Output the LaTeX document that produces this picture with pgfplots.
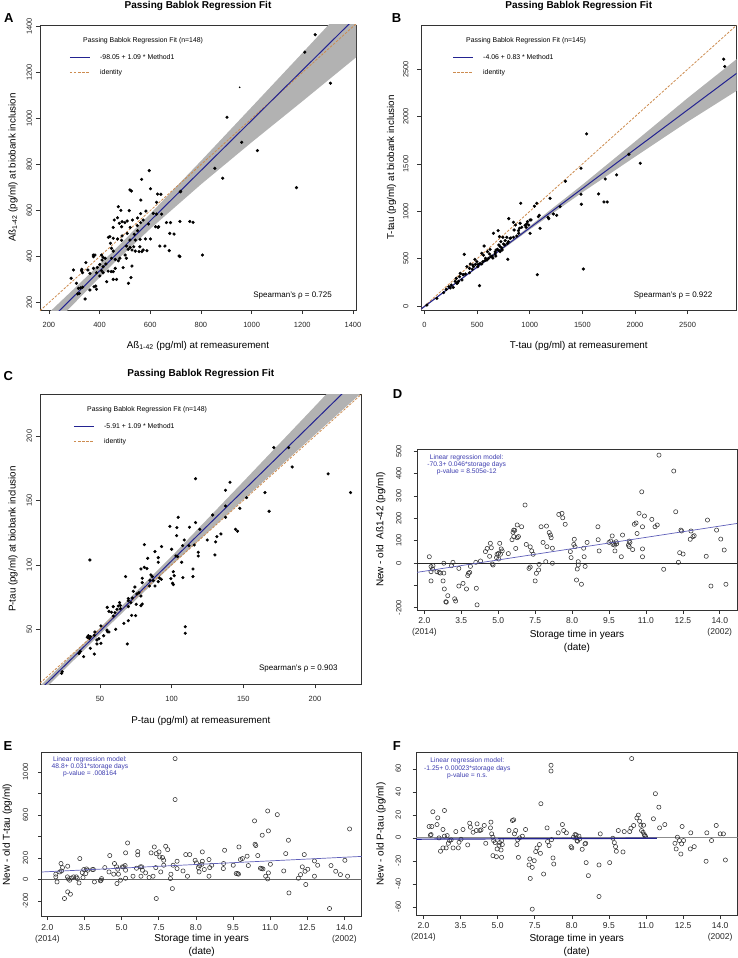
\documentclass[border=0pt]{standalone}
\usepackage{fontspec}
\setmainfont{Liberation Sans}
\usepackage{pgfplots}
\pgfplotsset{compat=1.18}
\definecolor{regblue}{RGB}{35,35,145}
\definecolor{bandgray}{RGB}{178,178,178}
\definecolor{identc}{RGB}{205,140,80}
\definecolor{annblue}{RGB}{60,60,175}
\definecolor{lmblue}{RGB}{95,95,185}
\newcommand{\fs}[1]{\fontsize{#1}{#1}\selectfont}
\pgfplotsset{
  rbase/.style={
    scale only axis, anchor=north west,
    clip mode=individual,
    axis line style={black!80, line width=0.8pt},
    tick align=outside, tick pos=left,
    major tick length=4pt,
    tick style={black!80, line width=0.6pt},
    /pgf/number format/1000 sep={},
    /pgf/number format/assume math mode=true,
    scaled ticks=false,
    ticklabel style={font=\fs{7.5}, text=black!85},
  },
  pbstyle/.style={rbase,
    xticklabel style={anchor=center, yshift=-11pt},
  },
  ylab/.style={yticklabel style={xshift=#1, rotate=90, anchor=center}},
  tsstyle/.style={rbase,
    major tick length=3.5pt,
    xtick={2,3.5,5,6.5,8,9.5,11,12.5,14},
    xticklabels={{2.0\\(2014)},3.5,5.0,7.5,8.0,9.5,11.0,12.5,{14.0\\(2002)}},
    xticklabel style={font=\fontsize{8.5}{11}\selectfont, align=center, anchor=north, inner sep=0pt, yshift=-4pt},
  },
  pts/.style={only marks, mark=*, mark size=1.4pt, black},
  opts/.style={only marks, mark=o, mark size=2.1pt, mark options={line width=0.55pt, black!80}},
}
\newcommand{\pblegend}[3]{%
  \node[anchor=west, font=\fs{6.9}, inner sep=0pt] at ([xshift=#1+13pt,yshift=-15.7pt]axis description cs:0,1) {Passing Bablok Regression Fit (n=#2)};
  \draw[regblue, line width=1pt] ([xshift=#1,yshift=-32.3pt]axis description cs:0,1) -- ++(20pt,0pt);
  \node[anchor=west, font=\fs{6.9}, inner sep=0pt] at ([xshift=#1+30pt,yshift=-32.3pt]axis description cs:0,1) {#3};
  \draw[identc, line width=0.8pt, dash pattern=on 2.5pt off 1.5pt] ([xshift=#1,yshift=-47.7pt]axis description cs:0,1) -- ++(20pt,0pt);
  \node[anchor=west, font=\fs{6.9}, inner sep=0pt] at ([xshift=#1+30pt,yshift=-47.7pt]axis description cs:0,1) {identity};
}
\begin{document}
\begin{tikzpicture}
\useasboundingbox (0pt,0pt) rectangle (738pt,-958pt);
% ---------------- A ----------------
\begin{axis}[pbstyle, ylab=-6.7pt, at={(40pt,-25pt)}, width=316pt, height=285pt,
  xmin=165, xmax=1412, ymin=168, ymax=1407,
  xtick={200,400,...,1400}, ytick={200,400,...,1400}]
\addplot[fill=bandgray, draw=none] coordinates {(165,119.8)(300,260.95)(450,419.45)(600,585.95)(800,815.95)(1000,1049.95)(1200,1284.95)(1412,1536.03)(1412,1266.03)(1200,1074.95)(1000,896.95)(800,713.95)(600,520.95)(450,365.45)(300,196.95)(165,43.8)} -- cycle;
\addplot[identc, line width=0.8pt, dash pattern=on 2.5pt off 1.5pt] coordinates {(165,165)(1412,1412)};
\addplot[regblue, line width=1pt] coordinates {(165,81.8)(1412,1441.0)};
\addplot[pts] coordinates {(596,774)(566,736)(520,690)(526,685)(601,695)(629,672)(642,671)(719,682)(563,646)(625,636)(474,617)(484,601)(517,600)(583,598)(562,587)(612,588)(625,585)(645,585)(458,559)(471,569)(478,545)(489,552)(500,548)(509,555)(530,559)(550,568)(521,527)(549,535)(550,513)(562,548)(572,559)(593,542)(621,530)(633,530)(664,548)(680,548)(717,553)(756,553)(769,549)(454,527)(487,530)(441,487)(435,484)(454,480)(471,477)(489,490)(487,471)(509,501)(537,497)(541,472)(520,472)(560,475)(581,477)(601,477)(559,443)(572,429)(587,426)(567,422)(535,443)(541,424)(506,446)(521,440)(528,429)(443,458)(447,436)(454,424)(408,407)(422,393)(414,397)(410,385)(375,407)(382,407)(376,400)(346,374)(330,345)(297,342)(354,342)(376,349)(391,353)(401,366)(414,356)(425,368)(447,393)(462,388)(474,382)(480,393)(501,407)(506,393)(513,432)(556,422)(493,352)(528,359)(462,349)(446,335)(434,337)(454,335)(388,330)(408,339)(414,330)(401,316)(362,327)(333,330)(329,339)(309,284)(288,306)(454,301)(467,301)(524,309)(514,284)(428,291)(385,272)(378,269)(317,262)(333,267)(325,264)(320,240)(314,238)(362,255)(388,258)(343,216)(638,446)(658,446)(675,426)(714,403)(677,501)(694,498)(806,407)(631,527)(903,1006)(961,897)(1023,861)(855,784)(886,741)(720,684)(1177,700)(717,400)(1210,1289)(1251,1365)(1311,1154)};
\addplot[only marks, mark=*, mark size=0.6pt, black] coordinates {(953,1136)};
\pblegend{30pt}{148}{-98.05 + 1.09 * Method1}
\node[anchor=base east, font=\fs{8}, inner sep=0pt] at ([xshift=-24pt,yshift=13pt]axis description cs:1,0) {Spearman's ρ = 0.725};
\node[anchor=base, font=\bfseries\fs{10}, inner sep=0pt] at ([yshift=16pt]axis description cs:0.5,1) {Passing Bablok Regression Fit};
\node[anchor=base, font=\fs{9.8}, inner sep=0pt] at ([yshift=-38pt]axis description cs:0.5,0) {Aß\textsubscript{1-42} (pg/ml) at remeasurement};
\node[rotate=90, anchor=center, font=\fs{9.8}, inner sep=0pt] at ([xshift=-27pt]axis description cs:0,0.5) {Aß\textsubscript{1-42} (pg/ml) at biobank inclusion};
\end{axis}
% ---------------- B ----------------
\begin{axis}[pbstyle, ylab=-11.3pt, at={(421pt,-25pt)}, width=315.5pt, height=285pt,
  xmin=-34, xmax=2965, ymin=-42, ymax=2968,
  xtick={0,500,...,2500}, ytick={0,500,...,2500}]
\addplot[fill=bandgray, draw=none] coordinates {(-34,-24.3)(500,418.9)(1000,843.9)(1500,1280.9)(2000,1736)(2500,2196)(2965,2607)(2965,2272)(2500,1946)(2000,1576)(1500,1200.9)(1000,807.9)(500,402.9)(-34,-40.3)} -- cycle;
\addplot[identc, line width=0.8pt, dash pattern=on 2.5pt off 1.5pt] coordinates {(-34,-34)(2965,2965)};
\addplot[regblue, line width=1pt] coordinates {(-34,-32.3)(2965,2457)};
\addplot[pts] coordinates {(1540,1818)(1487,1455)(1338,1318)(1487,1180)(1490,1075)(1509,391)(1072,331)(914,1085)(1044,1054)(1066,1085)(1193,1138)(1288,1050)(1224,972)(1256,958)(1174,937)(1180,923)(1082,944)(1091,958)(1098,821)(1003,909)(971,867)(990,856)(1003,768)(965,832)(908,874)(902,821)(895,768)(864,856)(851,803)(800,923)(845,884)(820,719)(797,680)(788,662)(763,645)(791,493)(744,726)(699,796)(655,768)(712,733)(782,726)(725,680)(706,645)(680,592)(737,592)(718,574)(671,550)(642,528)(598,574)(617,550)(623,599)(566,634)(544,557)(560,536)(579,504)(528,451)(544,444)(478,493)(497,469)(465,416)(453,388)(427,352)(377,546)(339,345)(370,331)(332,310)(355,275)(301,292)(291,261)(307,239)(272,197)(244,190)(206,176)(181,141)(522,215)(117,81)(22,10)(402,416)(427,398)(434,444)(459,433)(510,440)(592,486)(608,504)(630,522)(671,571)(693,599)(718,627)(750,655)(766,691)(813,715)(845,726)(876,740)(892,796)(924,832)(956,853)(978,891)(1012,909)(709,585)(734,613)(677,528)(649,507)(573,479)(554,469)(484,440)(506,416)(364,331)(389,338)(323,261)(313,243)(231,204)(253,222)(2843,2607)(2853,2530)(1942,1603)(2050,1508)(1825,1385)(1717,1342)(1654,1184)(1705,1099)(1736,1099)};
\pblegend{32pt}{145}{-4.06 + 0.83 * Method1}
\node[anchor=base east, font=\fs{8}, inner sep=0pt] at ([xshift=-24pt,yshift=13pt]axis description cs:1,0) {Spearman's ρ = 0.922};
\node[anchor=base, font=\bfseries\fs{10}, inner sep=0pt] at ([yshift=16pt]axis description cs:0.5,1) {Passing Bablok Regression Fit};
\node[anchor=base, font=\fs{9.8}, inner sep=0pt] at ([yshift=-38pt]axis description cs:0.5,0) {T-tau (pg/ml) at remeasurement};
\node[rotate=90, anchor=center, font=\fs{9.8}, inner sep=0pt] at ([xshift=-29.3pt]axis description cs:0,0.5) {T-tau (pg/ml) at biobank inclusion};
\end{axis}
% ---------------- C ----------------
\begin{axis}[pbstyle, ylab=-6.7pt, at={(40pt,-394pt)}, width=321.7pt, height=290.3pt,
  xmin=8.2, xmax=232.6, ymin=7.3, ymax=232.6,
  xtick={50,100,150,200}, ytick={50,100,150,200}]
\addplot[fill=bandgray, draw=none] coordinates {(8.2,6.03)(50,51.09)(100,106.59)(150,164.59)(200,223.09)(232.6,261.62)(232.6,233.62)(200,201.09)(150,150.59)(100,99.59)(50,46.09)(8.2,0.03)} -- cycle;
\addplot[identc, line width=0.8pt, dash pattern=on 2.5pt off 1.5pt] coordinates {(8.2,8.2)(232.6,232.6)};
\addplot[regblue, line width=1pt] coordinates {(8.2,3.03)(232.6,247.62)};
\addplot[pts] coordinates {(116.7,166.9)(140.7,164.1)(137.6,157.9)(152.3,152.2)(147.6,143.9)(137.6,145.7)(137.6,136.9)(128.6,138.7)(104.6,136.9)(116.7,132.8)(119.7,127.6)(98.8,129.9)(103.7,128.9)(112.5,129.2)(144.6,127.6)(146.0,126.1)(134.4,124.0)(131.6,121.9)(130.7,117.8)(124.9,119.3)(115.8,115.4)(118.6,109.8)(118.6,106.9)(108.8,119.3)(112.1,114.9)(107.7,114.9)(103.5,122.7)(100.0,112.1)(104.2,106.4)(103.0,106.9)(107.0,102.0)(114.9,96.8)(114.9,90.9)(107.9,90.1)(101.2,94.7)(101.8,91.6)(100.7,85.7)(101.2,84.7)(99.5,89.3)(93.0,114.2)(88.4,110.3)(83.3,105.1)(90.7,105.6)(90.7,102.0)(81.0,115.7)(82.8,97.1)(81.0,98.1)(78.6,96.8)(85.6,92.2)(86.5,90.9)(84.9,88.0)(87.2,87.8)(90.7,87.0)(92.8,88.8)(91.6,89.8)(84.6,83.6)(88.4,83.6)(79.5,89.6)(79.5,86.2)(74.4,82.8)(73.3,79.5)(77.2,78.4)(75.8,77.4)(78.6,75.8)(79.5,69.6)(78.6,68.3)(72.6,74.3)(69.8,73.8)(69.8,72.2)(75.3,69.4)(74.9,60.6)(67.9,90.9)(71.6,70.7)(69.8,67.6)(63.7,70.7)(64.2,68.6)(62.8,68.1)(64.2,66.0)(59.3,67.6)(58.1,63.2)(60.5,62.9)(61.9,65.5)(59.3,60.3)(55.1,67.0)(56.3,63.9)(72.1,60.8)(69.8,56.7)(66.7,54.6)(61.0,50.0)(56.3,47.9)(54.9,49.4)(55.3,48.2)(50.7,52.6)(52.6,45.0)(50.7,39.1)(47.9,38.6)(46.5,47.9)(46.1,45.3)(43.5,44.3)(41.9,45.0)(41.2,43.8)(42.6,43.0)(49.3,42.7)(47.9,41.7)(43.3,35.2)(46.1,30.8)(38.6,28.8)(35.4,31.3)(36.3,32.9)(23.7,17.1)(23.3,15.8)(43.0,103.8)(69.1,38.6)(109.5,52.0)(109.5,46.9)(130.2,107.7)(224.8,156.1)(209.2,170.6)(184.1,176.0)(171.3,191.0)(181.6,191.0)(168.0,141.6)(165.1,156.1)};
\pblegend{34pt}{148}{-5.91 + 1.09 * Method1}
\node[anchor=base east, font=\fs{8}, inner sep=0pt] at ([xshift=-24pt,yshift=13.6pt]axis description cs:1,0) {Spearman's ρ = 0.903};
\node[anchor=base, font=\bfseries\fs{10}, inner sep=0pt] at ([yshift=17.3pt]axis description cs:0.5,1) {Passing Bablok Regression Fit};
\node[anchor=base, font=\fs{9.8}, inner sep=0pt] at ([yshift=-38.7pt]axis description cs:0.5,0) {P-tau (pg/ml) at remeasurement};
\node[rotate=90, anchor=center, font=\fs{9.8}, inner sep=0pt] at ([xshift=-27pt]axis description cs:0,0.5) {P-tau (pg/ml) at biobank inclusion};
\end{axis}
% ---------------- D ----------------
\begin{axis}[tsstyle, ylab=-14.7pt, at={(417pt,-449.3pt)}, width=320pt, height=160.7pt,
  xmin=1.70, xmax=14.70, ymin=-210, ymax=508,
  ytick={-200,-100,0,100,200,300,400,500}, yticklabels={-200,,0,100,200,300,400,500}]
\addplot[black!85, line width=0.7pt] coordinates {(1.70,0)(14.70,0)};
\addplot[opts] coordinates {(2.20,28)(2.27,-16)(2.33,-27)(2.27,-39)(2.27,-80)(2.35,-12)(2.51,-39)(2.60,-42)(2.65,-45)(2.79,-45)(2.79,-1)(2.76,-80)(2.81,-116)(2.95,-146)(2.87,-173)(2.89,-175)(3.10,-12)(3.16,3)(3.40,-24)(3.23,-160)(3.27,-170)(3.40,-103)(3.57,-91)(3.71,-116)(3.79,-46)(3.84,-42)(3.76,-56)(3.87,-15)(4.11,-113)(4.14,-187)(4.09,3)(4.28,9)(4.48,51)(4.55,65)(4.68,88)(4.65,30)(4.76,-4)(4.79,-9)(4.72,68)(4.95,39)(5.01,43)(4.93,24)(5.02,18)(5.06,88)(5.12,63)(5.16,54)(5.09,39)(5.41,42)(5.56,104)(5.63,118)(5.77,113)(5.82,118)(5.63,147)(5.77,170)(5.60,137)(5.67,146)(5.95,162)(5.71,65)(6.09,259)(6.14,83)(6.30,72)(6.36,54)(6.42,39)(6.25,-24)(6.30,-18)(6.50,-80)(6.55,-46)(6.64,-31)(6.66,-6)(6.74,162)(6.96,165)(6.82,92)(6.98,73)(7.07,136)(7.12,125)(7.15,113)(6.93,6)(7.20,66)(7.20,-1)(7.46,217)(7.59,222)(7.62,202)(7.72,173)(7.93,51)(7.96,24)(8.09,106)(8.07,83)(8.12,73)(8.25,6)(8.25,-9)(8.21,-27)(8.18,-76)(8.38,-95)(8.47,66)(8.49,28)(8.53,-15)(8.61,92)(9.05,162)(9.06,104)(9.10,54)(9.50,92)(9.57,98)(9.63,121)(9.66,83)(9.69,89)(9.73,80)(9.74,54)(9.79,95)(9.81,86)(10.00,28)(10.05,125)(10.29,80)(10.32,98)(10.35,92)(10.32,73)(10.46,60)(10.53,173)(10.60,179)(10.64,132)(10.72,222)(10.83,318)(10.86,162)(10.86,63)(10.86,28)(10.94,210)(11.24,195)(11.37,162)(11.46,170)(11.53,482)(11.72,-28)(12.13,411)(12.21,229)(12.32,3)(12.37,46)(12.51,40)(12.42,147)(12.45,143)(12.80,106)(12.91,118)(12.96,122)(12.83,143)(13.45,30)(13.50,192)(13.64,-103)(13.87,147)(14.04,107)(14.18,58)(14.25,-95)};
\addplot[lmblue, line width=0.7pt] coordinates {(1.70,-41.7)(14.70,176.7)};
\node[align=center, anchor=north, font=\fontsize{6.7}{7.3}\selectfont, text=annblue, inner sep=0pt] at ([xshift=49.7pt,yshift=-5pt]axis description cs:0,1) {Linear regression model:\\-70.3+ 0.046*storage days\\p-value = 8.505e-12};
\node[anchor=base, font=\fs{10}, inner sep=0pt] at ([yshift=-27pt]axis description cs:0.5,0) {Storage time in years};
\node[anchor=base, font=\fs{10}, inner sep=0pt] at ([yshift=-40pt]axis description cs:0.5,0) {(date)};
\node[rotate=90, anchor=center, font=\fs{10}, inner sep=0pt] at ([xshift=-36.3pt]axis description cs:0,0.5) {New - old\ \ Aß1-42 (pg/ml)};
\end{axis}
% ---------------- E ----------------
\begin{axis}[tsstyle, ylab=-12.7pt, at={(41.7pt,-752.7pt)}, width=320pt, height=164pt,
  xmin=1.77, xmax=14.70, ymin=-345, ymax=1178,
  ytick={-200,0,200,400,600,800,1000}, yticklabels={-200,0,200,,600,,1000}]
\addplot[black!60, line width=0.8pt] coordinates {(1.77,0)(14.70,0)};
\addplot[opts] coordinates {(2.34,50)(2.34,25)(2.39,-22)(2.55,149)(2.61,111)(2.82,124)(2.50,71)(2.57,80)(2.69,-176)(2.82,-114)(2.93,-136)(2.81,25)(2.85,6)(2.90,-6)(2.98,15)(3.06,25)(3.17,25)(3.21,9)(3.28,-31)(3.31,195)(3.41,65)(3.47,93)(3.58,99)(3.63,87)(3.44,19)(3.55,56)(3.82,93)(3.86,93)(3.90,-22)(4.14,-12)(4.19,9)(4.17,-6)(4.32,111)(4.49,71)(4.52,223)(4.71,149)(4.80,118)(4.84,96)(4.68,50)(4.87,50)(4.81,-37)(4.95,-6)(5.03,118)(5.08,118)(5.14,130)(5.16,87)(5.16,248)(5.24,340)(5.16,12)(5.46,31)(5.60,105)(5.65,260)(5.65,229)(5.76,118)(5.81,118)(5.84,87)(5.78,31)(5.97,62)(6.11,19)(6.27,31)(6.19,248)(6.32,303)(6.38,111)(6.40,-176)(6.40,241)(6.51,257)(6.54,210)(6.58,71)(6.65,204)(6.70,179)(6.70,133)(6.78,309)(6.86,278)(6.99,50)(6.97,9)(7.05,-84)(7.08,133)(7.16,1123)(7.16,743)(7.24,170)(7.24,102)(7.48,80)(7.59,232)(7.75,232)(7.66,31)(7.97,179)(8.02,155)(8.10,111)(8.15,130)(8.24,142)(8.26,170)(8.26,257)(8.13,71)(8.34,93)(8.53,186)(8.56,111)(8.53,31)(8.64,133)(9.11,102)(9.16,272)(9.12,149)(9.51,133)(9.63,56)(9.69,56)(9.72,50)(9.74,303)(9.80,186)(9.88,195)(10.07,217)(10.12,130)(10.37,545)(10.39,328)(10.42,316)(10.50,223)(10.61,105)(10.66,102)(10.71,99)(10.68,412)(10.82,31)(10.90,637)(10.93,62)(10.93,452)(10.90,6)(11.01,142)(11.29,603)(11.55,80)(11.63,241)(11.74,365)(11.76,-124)(12.14,12)(12.23,46)(12.30,118)(12.38,232)(12.41,77)(12.44,-46)(12.52,96)(12.79,173)(12.92,133)(12.79,31)(13.40,-269)(13.46,130)(13.65,77)(13.84,46)(14.02,179)(14.13,31)(14.21,470)};
\addplot[lmblue, line width=0.7pt] coordinates {(1.77,70.3)(14.70,215)};
\node[align=center, anchor=north, font=\fontsize{6.7}{7.3}\selectfont, text=annblue, inner sep=0pt] at ([xshift=48.3pt,yshift=-3.5pt]axis description cs:0,1) {Linear regression model:\\48.8+ 0.031*storage days\\p-value = .008164};
\node[anchor=base, font=\fs{10}, inner sep=0pt] at ([yshift=-24.5pt]axis description cs:0.5,0) {Storage time in years};
\node[anchor=base, font=\fs{10}, inner sep=0pt] at ([yshift=-38pt]axis description cs:0.5,0) {(date)};
\node[rotate=90, anchor=center, font=\fs{10}, inner sep=0pt] at ([xshift=-34.4pt]axis description cs:0,0.5) {New - old T-tau (pg/ml)};
\end{axis}
% ---------------- F ----------------
\begin{axis}[tsstyle, ylab=-14.3pt, at={(416pt,-752.7pt)}, width=321.5pt, height=162.3pt,
  xmin=1.70, xmax=14.70, ymin=-67, ymax=74,
  ytick={-60,-40,...,60}]
\addplot[black!45, line width=1.1pt] coordinates {(1.70,0)(14.70,0)};
\addplot[opts] coordinates {(2.23,9.9)(2.34,9.9)(2.31,2.9)(2.28,2.3)(2.38,22.7)(2.58,17.4)(2.55,11.6)(2.85,23.8)(2.79,7.3)(2.85,1.5)(2.63,0)(2.69,-11.6)(2.79,-8.7)(2.92,-8.7)(3.01,-4.7)(3.06,-2.3)(2.96,2.0)(3.12,-1.7)(3.20,-8.7)(3.31,5.5)(3.41,-8.7)(3.44,-3.8)(3.52,-1.2)(3.60,7.3)(3.79,-6.1)(3.87,12.8)(3.90,9.3)(4.01,4.9)(4.14,6.4)(4.17,12.2)(4.28,6.4)(4.33,7.0)(4.46,10.8)(4.52,-4.7)(4.71,8.7)(4.73,13.7)(4.76,3.5)(4.81,0.6)(4.84,-2.3)(4.90,-4.1)(4.81,-15.4)(4.95,-16.3)(5.16,-16.9)(4.98,-9.6)(5.06,-6.4)(5.08,-4.1)(5.16,-2.3)(5.19,-5.8)(5.14,-10.5)(5.46,6.4)(5.60,15.1)(5.65,15.7)(5.68,3.5)(5.73,6.4)(5.78,-5.8)(5.84,-16.9)(5.81,-1.7)(5.89,0)(6.00,1.5)(6.13,7.3)(6.30,-18.3)(6.27,-23.5)(6.40,-25.6)(6.32,-35.2)(6.40,-61.9)(6.48,-19.8)(6.54,-11.9)(6.59,-8.7)(6.69,-5.8)(6.73,-13.4)(6.75,29.7)(6.86,-31.4)(7.00,8.7)(7.02,-3.2)(7.08,-6.7)(7.18,-1.5)(7.16,63.1)(7.16,58.1)(7.24,-17.4)(7.27,-22.7)(7.45,4.4)(7.62,11.6)(7.67,6.4)(7.78,4.4)(7.97,-7.6)(8.00,-8.7)(8.07,0.6)(8.13,2.9)(8.18,0)(8.21,-2.3)(8.29,1.5)(8.18,2.6)(8.23,-2.9)(8.32,-0.9)(8.42,-9.9)(8.53,-5.2)(8.56,-4.7)(8.58,-21.5)(8.67,-32.8)(9.10,-23.5)(9.10,-50.9)(9.15,3.5)(9.53,-21.5)(9.66,-0.3)(9.72,-4.1)(9.77,-7.6)(9.80,-11.6)(9.88,6.4)(10.07,-12.2)(10.12,5.5)(10.34,5.5)(10.39,8.4)(10.50,10.8)(10.63,17.4)(10.69,19.8)(10.74,14.5)(10.79,11.0)(10.90,11.0)(10.42,68.9)(10.82,6.4)(10.88,4.9)(10.93,2.9)(10.95,2.0)(10.98,1.2)(11.30,16.6)(11.38,38.4)(11.52,26.7)(11.55,8.7)(11.76,11.6)(12.17,-4.7)(12.22,-9.6)(12.27,0.6)(12.35,-2.3)(12.41,-14.0)(12.44,-5.2)(12.46,9.9)(12.52,-2.3)(12.79,-9.6)(12.95,-7.6)(12.81,4.4)(13.43,-20.3)(13.46,4.4)(13.65,-2.3)(13.84,10.8)(14.00,3.5)(14.13,3.5)(14.21,-19.2)};
\addplot[regblue, line width=1.2pt] coordinates {(1.70,-1.11)(11.44,-0.29)};
\node[align=center, anchor=north, font=\fontsize{6.7}{7.3}\selectfont, text=annblue, inner sep=0pt] at ([xshift=51.3pt,yshift=-5pt]axis description cs:0,1) {Linear regression model:\\-1.25+ 0.00023*storage days\\p-value = n.s.};
\node[anchor=base, font=\fs{10}, inner sep=0pt] at ([yshift=-26pt]axis description cs:0.5,0) {Storage time in years};
\node[anchor=base, font=\fs{10}, inner sep=0pt] at ([yshift=-39.5pt]axis description cs:0.5,0) {(date)};
\node[rotate=90, anchor=center, font=\fs{10}, inner sep=0pt] at ([xshift=-35pt]axis description cs:0,0.5) {New - old P-tau (pg/ml)};
\end{axis}
% panel letters
\node[anchor=base west, font=\bfseries\fs{13}, inner sep=0pt] at (4pt,-22.7pt) {A};
\node[anchor=base west, font=\bfseries\fs{13}, inner sep=0pt] at (391.7pt,-22.7pt) {B};
\node[anchor=base west, font=\bfseries\fs{13}, inner sep=0pt] at (3.3pt,-380pt) {C};
\node[anchor=base west, font=\bfseries\fs{13}, inner sep=0pt] at (392.7pt,-398.3pt) {D};
\node[anchor=base west, font=\bfseries\fs{13}, inner sep=0pt] at (3.3pt,-750pt) {E};
\node[anchor=base west, font=\bfseries\fs{13}, inner sep=0pt] at (392.7pt,-750pt) {F};
\end{tikzpicture}
\end{document}
